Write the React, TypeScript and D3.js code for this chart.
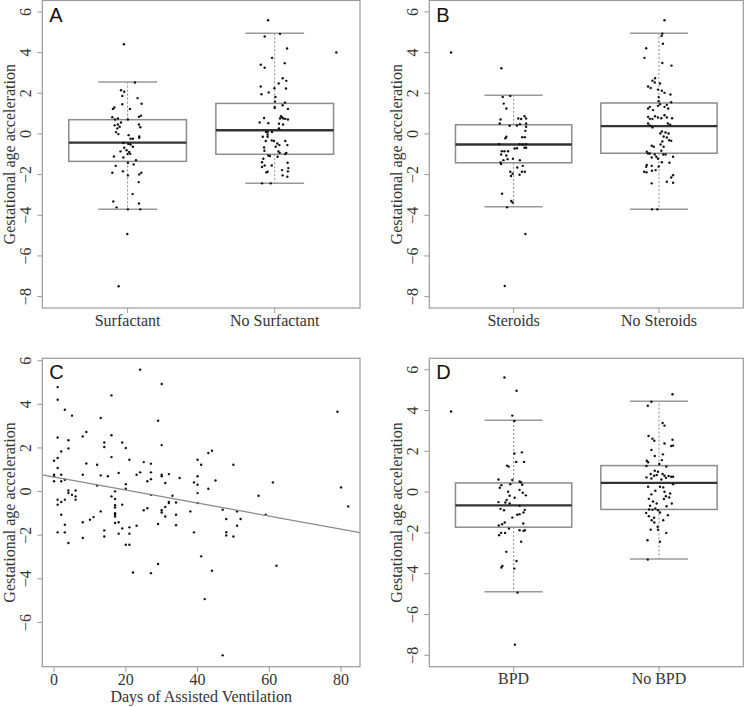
import React from "react";
import * as d3 from "d3";

// ---------- DATA ----------
const labelsA = ["Surfactant", "No Surfactant"];
const labelsB = ["Steroids", "No Steroids"];
const labelsD = ["BPD", "No BPD"];
const yTicksBox = [-8, -6, -4, -2, 0, 2, 4, 6];
const yTicksC = [-6, -4, -2, 0, 2, 4, 6];
const xTicksC = [0, 20, 40, 60, 80];

// box stats: [lowerWhisker, Q1, median, Q3, upperWhisker]
const statsA = [[-3.7, -1.35, -0.43, 0.7, 2.55], [-2.42, -1.0, 0.18, 1.5, 4.95]];
const statsB = [[-3.58, -1.42, -0.52, 0.45, 1.9], [-3.7, -0.95, 0.38, 1.52, 4.95]];
const statsD = [[-4.88, -1.72, -0.65, 0.45, 3.52], [-3.28, -0.85, 0.45, 1.3, 4.45]];

// points: [jitter (category units), gestational age acceleration]
const surfactant: [number, number][] = [
  [-0.025, 4.41], [0.05, 2.53], [-0.045, 2.15], [-0.023, 2.07], [-0.036, 1.87], [0.068, 1.76], [0.095, 1.48],
  [-0.036, 1.46], [0.016, 1.23], [-0.1, 1.23], [-0.09, 1.3], [0.077, 0.84], [0.09, 0.89], [-0.104, 0.82],
  [-0.066, 0.76], [-0.086, 0.71], [0.002, 0.71], [-0.045, 0.56], [-0.066, 0.46], [-0.088, 0.42], [-0.054, 0.35],
  [-0.07, 0.27], [0.077, 0.46], [0.086, 0.33], [-0.079, 0.09], [-0.063, -0.01], [0.007, -0.06], [0.02, -0.24],
  [0.036, -0.24], [0.079, -0.13], [0.079, -0.19], [-0.029, -0.45], [0.005, -0.49], [0.02, -0.52], [-0.023, -0.68],
  [0.036, -0.63], [-0.007, -0.8], [-0.048, -0.86], [0.011, -0.89], [0, -0.99], [0.018, -0.98], [-0.093, -1.11],
  [-0.029, -1.16], [0.057, -1.29], [-0.081, -1.57], [0.002, -1.42], [0.041, -1.5], [-0.104, -1.91], [-0.032, -1.84],
  [0.093, -1.91], [0.079, -1.99], [0.002, -2.04], [0.075, -2.37], [0.034, -2.96], [-0.097, -3.32], [0.077, -3.42],
  [-0.075, -3.61], [0.002, -3.71], [0.086, -3.71], [-0.002, -4.92], [-0.061, -7.49],
];
const noSurfactant: [number, number][] = [
  [-0.045, 5.59], [0.036, 4.92], [-0.068, 4.79], [0.084, 4.2], [0.419, 4.0], [-0.018, 3.74], [-0.095, 3.4],
  [-0.068, 3.25], [0.068, 3.48], [0.054, 2.74], [0.079, 2.61], [0.027, 2.48], [-0.095, 2.33], [-0.002, 2.25],
  [0.077, 2.23], [-0.041, 2.04], [-0.09, 1.95], [0.005, 1.82], [0.002, 1.59], [0.07, 1.54], [0.054, 1.41],
  [0.09, 1.23], [0, 1.33], [0, 1.27], [-0.072, 0.78], [-0.102, 0.56], [-0.043, 0.53], [0.036, 0.76], [0.05, 0.81],
  [0.059, 0.76], [0.072, 0.74], [0.09, 0.71], [0.043, 0.87], [0.029, 0.5], [0.057, 0.46], [0.029, 0.27],
  [-0.059, 0.1], [-0.048, 0.1], [-0.018, 0.1], [-0.048, -0.03], [-0.081, -0.14], [-0.048, -0.14], [-0.061, -0.35],
  [-0.02, -0.32], [-0.005, -0.35], [0.072, -0.35], [0.018, -0.47], [0.032, -0.55], [0.007, -0.63], [0.086, -0.55],
  [-0.072, -0.67], [-0.07, -0.83], [0.025, -0.86], [0.034, -0.93], [0.072, -0.99], [0.079, -0.93], [-0.043, -1.06],
  [-0.032, -1.09], [0.02, -1.12], [-0.077, -1.22], [-0.086, -1.39], [0.088, -1.42], [-0.068, -1.55], [-0.086, -1.63],
  [-0.02, -1.55], [0.093, -1.68], [0.09, -1.84], [-0.048, -1.86], [-0.057, -1.89], [0.05, -1.78], [0.054, -2.04],
  [0.086, -2.11], [-0.086, -2.43], [-0.027, -2.43],
];
const steroids: [number, number][] = [
  [-0.43, 4.0], [-0.084, 3.23], [-0.075, 1.82], [-0.023, 1.87], [-0.068, 1.49], [-0.05, 1.25], [-0.09, 0.71],
  [-0.095, 0.51], [0.032, 0.76], [0.052, 0.73], [0.075, 0.87], [0.086, 0.76], [-0.027, 0.4], [0.023, 0.41],
  [0.043, 0.48], [0.086, 0.51], [0.086, 0.35], [0.081, 0.15], [-0.05, -0.14], [-0.057, -0.21], [0.059, -0.16],
  [0.077, -0.16], [-0.1, -0.5], [0.041, -0.5], [0.063, -0.52], [0.086, -0.5], [0.007, -0.72], [0.023, -0.7],
  [0.075, -0.68], [0.086, -0.68], [-0.081, -0.85], [-0.063, -0.85], [-0.038, -0.85], [-0.086, -1.01], [-0.05, -1.06],
  [-0.041, -1.24], [-0.07, -1.29], [-0.005, -1.22], [0.043, -1.29], [-0.09, -1.4], [-0.086, -1.48], [0.063, -1.57],
  [0.025, -1.65], [-0.023, -1.86], [0.057, -1.86], [0.077, -1.86], [-0.007, -1.96], [0.041, -2.01], [-0.018, -2.07],
  [-0.079, -2.94], [-0.016, -3.3], [-0.007, -3.37], [-0.045, -3.61], [0.081, -4.92], [-0.061, -7.48],
];
const noSteroids: [number, number][] = [
  [0.038, 5.59], [0.023, 4.93], [0.018, 4.82], [0.027, 4.43], [-0.088, 4.21], [-0.1, 3.74], [0.023, 3.49],
  [0.086, 3.36], [-0.027, 2.74], [-0.045, 2.62], [-0.029, 2.53], [0.007, 2.48], [-0.075, 2.33], [-0.057, 2.26],
  [-0.007, 2.18], [0.02, 2.12], [0.038, 2.02], [0.079, 1.94], [-0.002, 1.81], [-0.002, 1.61], [0.007, 1.46],
  [-0.007, 1.38], [0.054, 1.43], [0.084, 1.56], [-0.063, 1.33], [-0.075, 1.25], [-0.041, 1.17], [0.038, 1.33],
  [0.063, 1.25], [-0.075, 0.84], [-0.063, 0.74], [-0.045, 0.74], [-0.027, 0.87], [-0.007, 0.81], [0.016, 0.77],
  [0.038, 0.92], [0.054, 0.81], [0.09, 0.77], [-0.063, 0.41], [-0.075, 0.51], [-0.045, 0.32], [0.061, 0.51],
  [0.077, 0.45], [0.02, 0.12], [0.009, 0.02], [0.045, 0.07], [0.066, 0.02], [0.032, -0.13], [0.054, -0.18],
  [0.07, -0.31], [0.084, -0.34], [0.023, -0.37], [0.011, -0.52], [-0.05, -0.58], [-0.036, -0.63], [0.032, -0.63],
  [0.016, -0.83], [-0.084, -0.88], [-0.075, -0.96], [-0.063, -0.96], [-0.029, -1.01], [0.029, -1.01], [0.045, -1.01],
  [-0.018, -1.12], [-0.05, -1.16], [0.097, -1.12], [-0.007, -1.22], [0.02, -1.39], [0.072, -1.42], [-0.084, -1.53],
  [-0.05, -1.57], [-0.002, -1.6], [-0.088, -1.62], [-0.023, -1.78], [-0.102, -1.86], [-0.086, -1.89], [-0.048, -1.81],
  [0.097, -2.03], [0.084, -2.14], [0.054, -2.35], [0.097, -2.4], [-0.05, -2.43], [-0.048, -3.71], [-0.011, -3.71],
];
const bpd: [number, number][] = [
  [-0.43, 3.95], [-0.063, 5.62], [0.02, 4.97], [-0.009, 3.75], [0.005, 3.49], [0.057, 1.95], [0.005, 1.89],
  [0.072, 1.48], [0.018, 1.48], [-0.045, 1.3], [-0.034, 1.25], [-0.104, 0.62], [-0.009, 0.59], [0.041, 0.52],
  [0.05, 0.48], [-0.084, 0.34], [0.059, 0.36], [-0.095, 0.21], [-0.023, 0.39], [-0.038, 0.02], [0.041, 0.11],
  [0.063, -0.03], [0.084, -0.16], [-0.027, -0.18], [0.007, -0.28], [-0.104, -0.49], [-0.048, -0.39], [-0.057, -0.51],
  [-0.027, -0.56], [0.041, -0.67], [-0.09, -0.82], [-0.066, -0.89], [0.077, -0.87], [0.068, -1.0], [0.041, -1.08],
  [0.025, -1.11], [-0.009, -1.25], [-0.061, -1.49], [-0.079, -1.57], [-0.102, -1.64], [0.066, -1.54], [-0.032, -1.79],
  [0.041, -1.87], [0.068, -1.9], [0.077, -1.87], [-0.086, -2.0], [-0.1, -2.11], [-0.059, -2.0], [0.052, -2.43],
  [-0.05, -2.93], [0.02, -3.38], [-0.077, -3.62], [-0.084, -3.7], [0.005, -3.75], [0.027, -4.93], [0.009, -7.48],
];
const noBpd: [number, number][] = [
  [0.093, 4.8], [-0.052, 4.43], [-0.077, 4.23], [0.025, 3.39], [0.038, 3.26], [-0.072, 2.75], [-0.045, 2.62],
  [-0.032, 2.52], [0.093, 2.57], [0.038, 2.38], [0.084, 2.26], [0.097, 2.28], [-0.052, 2.07], [0.027, 1.85],
  [-0.029, 1.77], [-0.084, 1.54], [0.02, 1.57], [-0.075, 1.46], [0.002, 1.38], [-0.086, 1.28], [0.05, 1.25],
  [-0.029, 1.05], [-0.057, 0.89], [-0.007, 1.0], [0.025, 0.89], [-0.034, 0.8], [-0.016, 0.84], [0.038, 0.8],
  [0.066, 0.79], [0.084, 0.75], [0.097, 0.75], [-0.086, 0.72], [-0.052, 0.67], [0.016, 0.62], [0.048, 0.7],
  [0.097, 0.39], [-0.075, 0.26], [0.007, 0.26], [0.029, 0.23], [-0.025, 0.07], [0.038, 0.02], [0.077, -0.07],
  [-0.052, -0.11], [0.048, -0.2], [0.07, -0.26], [-0.07, -0.33], [0.034, -0.34], [-0.041, -0.46], [0.088, -0.56],
  [-0.016, -0.56], [-0.061, -0.67], [0.052, -0.69], [-0.025, -0.8], [-0.068, -0.85], [-0.045, -0.87], [-0.007, -0.89],
  [-0.088, -1.02], [0.007, -1.0], [0.061, -1.13], [-0.07, -1.18], [-0.034, -1.26], [-0.05, -1.38], [-0.032, -1.49],
  [0.029, -1.38], [-0.009, -1.7], [-0.057, -1.84], [-0.007, -1.84], [0.05, -2.0], [-0.079, -2.36], [0.007, -2.43],
  [-0.077, -3.31],
];

// panel C: [days of assisted ventilation, gestational age acceleration]
const ventilation: [number, number][] = [
  [0, 1.41], [0, 0.77], [0, 0.47], [0, 0.7],
  [1, 4.79], [1, 4.21], [1, 2.48], [1, 1.54], [1, 1.08], [1, -0.37], [1, -0.6], [1, -1.87],
  [2, 1.84], [2, 0.77], [2, 0.47], [2, -0.48], [2, -1.06],
  [3, 3.75], [3, 0.54], [3, -0.37], [3, -1.52], [3, -1.87],
  [4, 2.35], [4, 1.98], [4, 0.05], [4, -0.07], [4, -2.36],
  [5, 3.48], [5, -0.15], [6, 0.05], [6, -0.22], [6, -0.37],
  [8, 2.53], [8, 0.77], [8, -1.41], [8, -2.13], [9, 2.73], [9, 1.29], [10, -1.29], [11, -1.17],
  [12, 1.23], [12, 0.28], [13, 3.37], [13, 0.74], [13, -0.91],
  [14, 2.25], [14, 2.04], [14, -1.78], [14, -2.06], [15, 0.7],
  [16, 4.41], [16, 2.58], [16, 1.58], [16, -0.22],
  [17, 0.01], [17, -0.34], [17, -0.63], [17, -0.73], [17, -0.99], [17, -1.06], [17, -1.14], [17, -1.44],
  [18, 0.85], [18, -1.41], [18, -1.93], [19, 2.25], [19, -0.6], [19, -1.69],
  [20, 2.0], [20, 0.34], [20, 0.13], [20, -2.44], [21, 1.46], [21, -1.64], [21, -1.93], [21, -2.44],
  [22, -3.71], [23, -1.57], [23, 0.77], [24, 5.59], [24, 0.88], [25, 1.35], [25, -0.86], [26, 0.47], [26, -0.76],
  [27, 1.28], [27, 0.88], [27, 0.57], [27, -0.15], [27, -3.74], [29, 3.25], [29, -1.49], [29, -3.32],
  [30, 4.93], [30, 2.13], [30, 0.77], [30, 0.7], [30, -0.86], [30, -0.96], [31, 0.39], [31, -0.71], [31, -1.14],
  [32, 0.8], [32, -0.48], [32, -0.53], [33, -0.19], [34, -0.5], [34, -1.06], [34, -1.54], [35, 0.62],
  [38, -0.91], [39, 0.42], [39, -1.87], [40, 1.46], [40, 0.7], [40, 0.31], [40, -0.07], [40, -0.53],
  [41, 1.23], [41, -2.97], [42, -4.93], [43, 1.77], [44, 1.87], [43, 0.13], [44, -3.63], [45, 0.51],
  [47, -0.83], [47, -7.51], [48, -1.26], [48, -1.86], [48, -2.01], [50, 1.23], [50, -2.06], [51, -0.91], [51, -1.57],
  [52, -1.26], [57, -0.19], [59, -1.06], [61, 0.42], [62, -3.4], [79, 3.66], [80, 0.19], [82, -0.68],
];
const fitIntercept = 0.67;
const fitSlope = -0.0299;

// ---------- LAYOUT ----------
const W = 748;
const H = 707;
const SERIF = "'Liberation Serif', 'Times New Roman', serif";
const SANS = "'Liberation Sans', Arial, sans-serif";
const FRAME_COL = "#9a9a9a";
const TEXT_COL = "#333";

type Frame = { x0: number; x1: number; y0: number; y1: number };

function YAxis({ f, y, ticks }: { f: Frame; y: d3.ScaleLinear<number, number>; ticks: number[] }) {
  return (
    <g>
      {ticks.map((t) => (
        <g key={t}>
          <line x1={f.x0 - 5} x2={f.x0} y1={y(t)} y2={y(t)} stroke={FRAME_COL} strokeWidth={1} />
          <text
            transform={`translate(${f.x0 - 11},${y(t)}) rotate(-90)`}
            textAnchor="middle"
            fontFamily={SERIF}
            fontSize={16}
            fill={TEXT_COL}
          >
            {t < 0 ? `\u2212${Math.abs(t)}` : t}
          </text>
        </g>
      ))}
      <text
        transform={`translate(${f.x0 - 27},${(f.y0 + f.y1) / 2}) rotate(-90)`}
        textAnchor="middle"
        fontFamily={SERIF}
        fontSize={16}
        fill={TEXT_COL}
      >
        Gestational age acceleration
      </text>
    </g>
  );
}

function FrameRect({ f }: { f: Frame }) {
  return (
    <rect x={f.x0} y={f.y0} width={f.x1 - f.x0} height={f.y1 - f.y0} fill="none" stroke={FRAME_COL} strokeWidth={1.2} />
  );
}

function Letter({ f, t }: { f: Frame; t: string }) {
  return (
    <text x={f.x0 + 7} y={f.y0 + 21} fontFamily={SANS} fontSize={20} fill="#111">
      {t}
    </text>
  );
}

function BoxPanel({
  f,
  labels,
  stats,
  groups,
  letter,
}: {
  f: Frame;
  labels: string[];
  stats: number[][];
  groups: [number, number][][];
  letter: string;
}) {
  const x = d3.scaleLinear().domain([0.42, 2.58]).range([f.x0, f.x1]);
  const y = d3.scaleLinear().domain([-8.56, 6.56]).range([f.y1, f.y0]);
  const bw = x(1.4) - x(1);
  return (
    <g>
      {stats.map((s, i) => {
        const c = x(i + 1);
        const [lo, q1, med, q3, hi] = s;
        return (
          <g key={i}>
            <line x1={c} x2={c} y1={y(q3)} y2={y(hi)} stroke="#8a8a8a" strokeWidth={1} strokeDasharray="2,2" />
            <line x1={c} x2={c} y1={y(q1)} y2={y(lo)} stroke="#8a8a8a" strokeWidth={1} strokeDasharray="2,2" />
            <line x1={c - bw / 2} x2={c + bw / 2} y1={y(hi)} y2={y(hi)} stroke="#999" strokeWidth={1.5} />
            <line x1={c - bw / 2} x2={c + bw / 2} y1={y(lo)} y2={y(lo)} stroke="#999" strokeWidth={1.5} />
            <rect x={c - bw} y={y(q3)} width={bw * 2} height={y(q1) - y(q3)} fill="white" stroke="#8c8c8c" strokeWidth={1.5} />
            <line x1={c - bw} x2={c + bw} y1={y(med)} y2={y(med)} stroke="#333" strokeWidth={2.3} />
          </g>
        );
      })}
      {groups.map((g, i) =>
        g.map(([j, v], k) => <circle key={`${i}-${k}`} cx={x(i + 1 + j)} cy={y(v)} r={1.2} fill="#111" />)
      )}
      <FrameRect f={f} />
      <YAxis f={f} y={y} ticks={yTicksBox} />
      {labels.map((l, i) => (
        <g key={l}>
          <line x1={x(i + 1)} x2={x(i + 1)} y1={f.y1} y2={f.y1 + 5} stroke={FRAME_COL} strokeWidth={1} />
          <text x={x(i + 1)} y={f.y1 + 17.5} textAnchor="middle" fontFamily={SERIF} fontSize={16} fill={TEXT_COL}>
            {l}
          </text>
        </g>
      ))}
      <Letter f={f} t={letter} />
    </g>
  );
}

function ScatterPanel({ f }: { f: Frame }) {
  const x = d3.scaleLinear().domain([-3.28, 85.28]).range([f.x0, f.x1]);
  const y = d3.scaleLinear().domain([-8.03, 6.11]).range([f.y1, f.y0]);
  const [d0, d1] = x.domain();
  return (
    <g>
      {ventilation.map(([d, v], i) => (
        <circle key={i} cx={x(d)} cy={y(v)} r={1.2} fill="#111" />
      ))}
      <line
        x1={x(d0)}
        x2={x(d1)}
        y1={y(fitIntercept + fitSlope * d0)}
        y2={y(fitIntercept + fitSlope * d1)}
        stroke="#8a8a8a"
        strokeWidth={1.3}
      />
      <FrameRect f={f} />
      <YAxis f={f} y={y} ticks={yTicksC} />
      {xTicksC.map((t) => (
        <g key={t}>
          <line x1={x(t)} x2={x(t)} y1={f.y1} y2={f.y1 + 5} stroke={FRAME_COL} strokeWidth={1} />
          <text x={x(t)} y={f.y1 + 18.3} textAnchor="middle" fontFamily={SERIF} fontSize={16} fill={TEXT_COL}>
            {t}
          </text>
        </g>
      ))}
      <text x={(f.x0 + f.x1) / 2} y={f.y1 + 35.5} textAnchor="middle" fontFamily={SERIF} fontSize={16} fill={TEXT_COL}>
        Days of Assisted Ventilation
      </text>
      <Letter f={f} t="C" />
    </g>
  );
}

export default function App() {
  const fA: Frame = { x0: 42.3, x1: 360, y0: 0.5, y1: 308 };
  const fB: Frame = { x0: 429.3, x1: 743.3, y0: 0.5, y1: 308 };
  const fC: Frame = { x0: 42.3, x1: 360, y0: 358.3, y1: 666.7 };
  const fD: Frame = { x0: 429.3, x1: 743.3, y0: 358.3, y1: 666.7 };
  return (
    <svg
      width={W}
      height={H}
      viewBox={`0 0 ${W} ${H}`}
      style={{ position: "absolute", left: 0, top: 0, background: "white" }}
    >
      <rect width={W} height={H} fill="white" />
      <BoxPanel f={fA} labels={labelsA} stats={statsA} groups={[surfactant, noSurfactant]} letter="A" />
      <BoxPanel f={fB} labels={labelsB} stats={statsB} groups={[steroids, noSteroids]} letter="B" />
      <ScatterPanel f={fC} />
      <BoxPanel f={fD} labels={labelsD} stats={statsD} groups={[bpd, noBpd]} letter="D" />
    </svg>
  );
}
